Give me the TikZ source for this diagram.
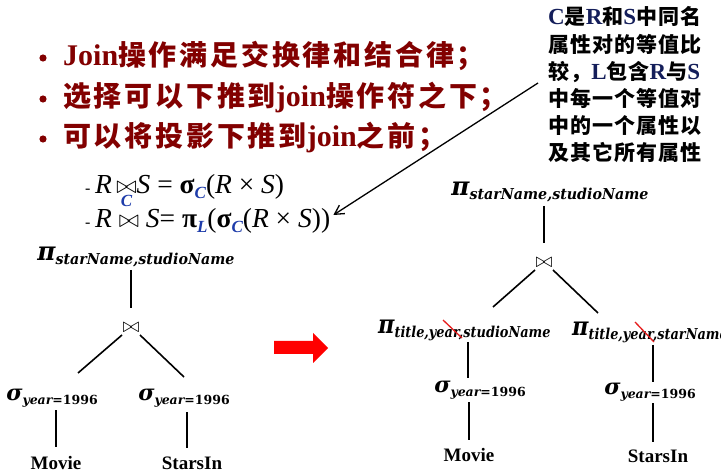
\documentclass[tikz,border=0pt]{standalone}
\usepackage{fontspec}
\usepackage{xcolor}
\usetikzlibrary{arrows.meta,calc}
\setmainfont{Liberation Serif}
\newfontfamily\cjk{Noto Sans CJK SC}[LetterSpace=10]
\newfontfamily\cjknote{Noto Sans CJK SC}[LetterSpace=5]
\newfontfamily\mfont{DejaVu Serif}
\definecolor{titlered}{RGB}{130,0,0}
\definecolor{subblue}{RGB}{30,60,170}
\definecolor{notenavy}{RGB}{20,30,90}
\definecolor{slashred}{RGB}{230,30,30}

% relational-algebra labels used in the trees
\newcommand\pjlabel[2]{\scalebox{#1}[1]{{\mfont\bfseries\itshape\fontsize{26}{26}\selectfont π}%
  \raisebox{-4pt}{\mfont\bfseries\itshape\fontsize{15}{15}\selectfont #2}}}
\newcommand\sglabel{{\mfont\bfseries\itshape\fontsize{22}{22}\selectfont σ}%
  \raisebox{-4pt}{\mfont\bfseries\fontsize{12.5}{12.5}\selectfont{\itshape year}=1996}}
\newcommand\jsym{{\fontsize{21}{21}\selectfont$\bowtie$}}
\newcommand\nlat[1]{{\rmfamily\bfseries\fontsize{23}{23}\selectfont\color{notenavy}#1}}
\newcommand\bsub[1]{\raisebox{-5pt}{\fontsize{17}{17}\selectfont\bfseries\itshape\color{subblue}#1}}

\tikzset{
  edge/.style={line width=1.6pt},
  lbl/.style={inner sep=0pt},
  relname/.style={inner sep=0pt, font=\bfseries\fontsize{19}{19}\selectfont},
  bullettext/.style={anchor=base west, inner sep=0pt,
    font=\fontsize{28}{28}\selectfont\bfseries\color{titlered}},
  notetext/.style={anchor=base west, inner sep=0pt,
    font=\cjknote\fontsize{21}{21}\selectfont\bfseries},
  formula/.style={anchor=base west, inner sep=0pt, font=\fontsize{27.5}{27.5}\selectfont}
}

\begin{document}
\begin{tikzpicture}[x=1pt,y=-1pt]
\useasboundingbox (0,0) rectangle (721,473);
\fill[white] (0,0) rectangle (721,473);

% bulleted statements
\foreach \yb in {58,99,139} \fill[titlered] (43,\yb) circle (3.6);
\node[bullettext] (b1) at (63,66) {{\rmfamily\fontsize{30}{30}\selectfont Join}{\cjk 操作满足交换律和结合律；}};
\node[bullettext] (b2) at (63,107) {{\cjk 选择可以下推到}{\rmfamily\fontsize{30}{30}\selectfont join}{\cjk 操作符之下；}};
\node[bullettext] (b3) at (63,147) {{\cjk 可以将投影下推到}{\rmfamily\fontsize{30}{30}\selectfont join}{\cjk 之前；}};

% note on the join condition
\node[notetext] (n1) at (548,25) {\nlat{C}是\nlat{R}和\nlat{S}中同名};
\node[notetext] (n2) at (548,52.2) {属性对的等值比};
\node[notetext] (n3) at (548,79.4) {较，\nlat{L}包含\nlat{R}与\nlat{S}};
\node[notetext] (n4) at (548,106.6) {中每一个等值对};
\node[notetext] (n5) at (548,133.8) {中的一个属性以};
\node[notetext] (n6) at (548,161) {及其它所有属性};

% join identities
\node[formula] (f1) at (85,194) {{\fontsize{16}{16}\selectfont -}\,\textit{R}\,$\mathop{\bowtie}\limits_{\hbox{\fontsize{17}{17}\selectfont\bfseries\itshape\color{subblue}C}}$\textit{S} = {\bfseries σ}\bsub{C}(\textit{R} × \textit{S})};
\node[formula] (f2) at (85,228) {{\fontsize{16}{16}\selectfont -}\,\textit{R} $\bowtie$ \textit{S}= {\bfseries π}\bsub{L}({\bfseries σ}\bsub{C}(\textit{R} × \textit{S}))};

\coordinate (ntail) at (538,83);
\draw[line width=1.3pt, -{Straight Barb[length=9pt,width=10pt,line width=1.3pt]}] (ntail) -- ($(f2.east |- 0,215)+(3,0)$) coordinate (ftip);

% original query tree
\node[lbl] (lpi) at (136,257) {\pjlabel{0.95}{starName,studioName}};
\node[lbl] (ljn) at (131,328) {\jsym};
\node[lbl] (lsg1) at (52,398) {\sglabel};
\node[lbl] (lsg2) at (184,398) {\sglabel};
\node[relname] (lmv) at (56,463) {Movie};
\node[relname] (lst) at (192,463) {StarsIn};
\draw[edge] (ljn |- 0,270) -- (ljn |- 0,308);
\draw[edge] ($(ljn)+(-9,7)$) -- ($(ljn)+(-53,45)$);
\draw[edge] ($(ljn)+(9,7)$) -- ($(ljn)+(53,49)$);
\draw[edge] (lmv |- 0,410) -- (lmv |- 0,447);
\draw[edge] (187,412) -- (187,448);

% transformation arrow
\fill[red] (274,341) -- (313,341) -- (313,333) -- (328,348) -- (313,363) -- (313,354) -- (274,354) -- cycle;

% tree with projections pushed down
\node[lbl] (rpi) at (550,192) {\pjlabel{0.95}{starName,studioName}};
\node[lbl] (rjn) at (544,263) {\jsym};
\node[lbl, anchor=west] (rp1) at (378,330) {\pjlabel{0.86}{title,year,studioName}};
\node[lbl, anchor=west] (rp2) at (572,332) {\pjlabel{0.86}{title,year,starName}};
\node[lbl] (rs1) at (480,390) {\sglabel};
\node[lbl] (rs2) at (650,392) {\sglabel};
\node[relname] (rmv) at (469,455) {Movie};
\node[relname] (rst) at (658,456) {StarsIn};
\draw[edge] (rjn |- 0,206) -- (rjn |- 0,243);
\draw[edge] ($(rjn)+(-9,7)$) -- ($(rjn)+(-51,44)$);
\draw[edge] ($(rjn)+(9,7)$) -- ($(rjn)+(54,50)$);
\draw[edge] (468,342) -- (468,378);
\draw[edge] (469,402) -- (469,440);
\draw[edge] (653,345) -- (653,382);
\draw[edge] (653,403) -- (653,442);

% strike-outs over the removed attribute
\draw[slashred, line width=1.3pt] ($(rp1.west)+(65,-10)$) -- ++(19,18);
\draw[slashred, line width=1.3pt] ($(rp2.west)+(63,-10)$) -- ++(19,20);
\end{tikzpicture}
\end{document}
